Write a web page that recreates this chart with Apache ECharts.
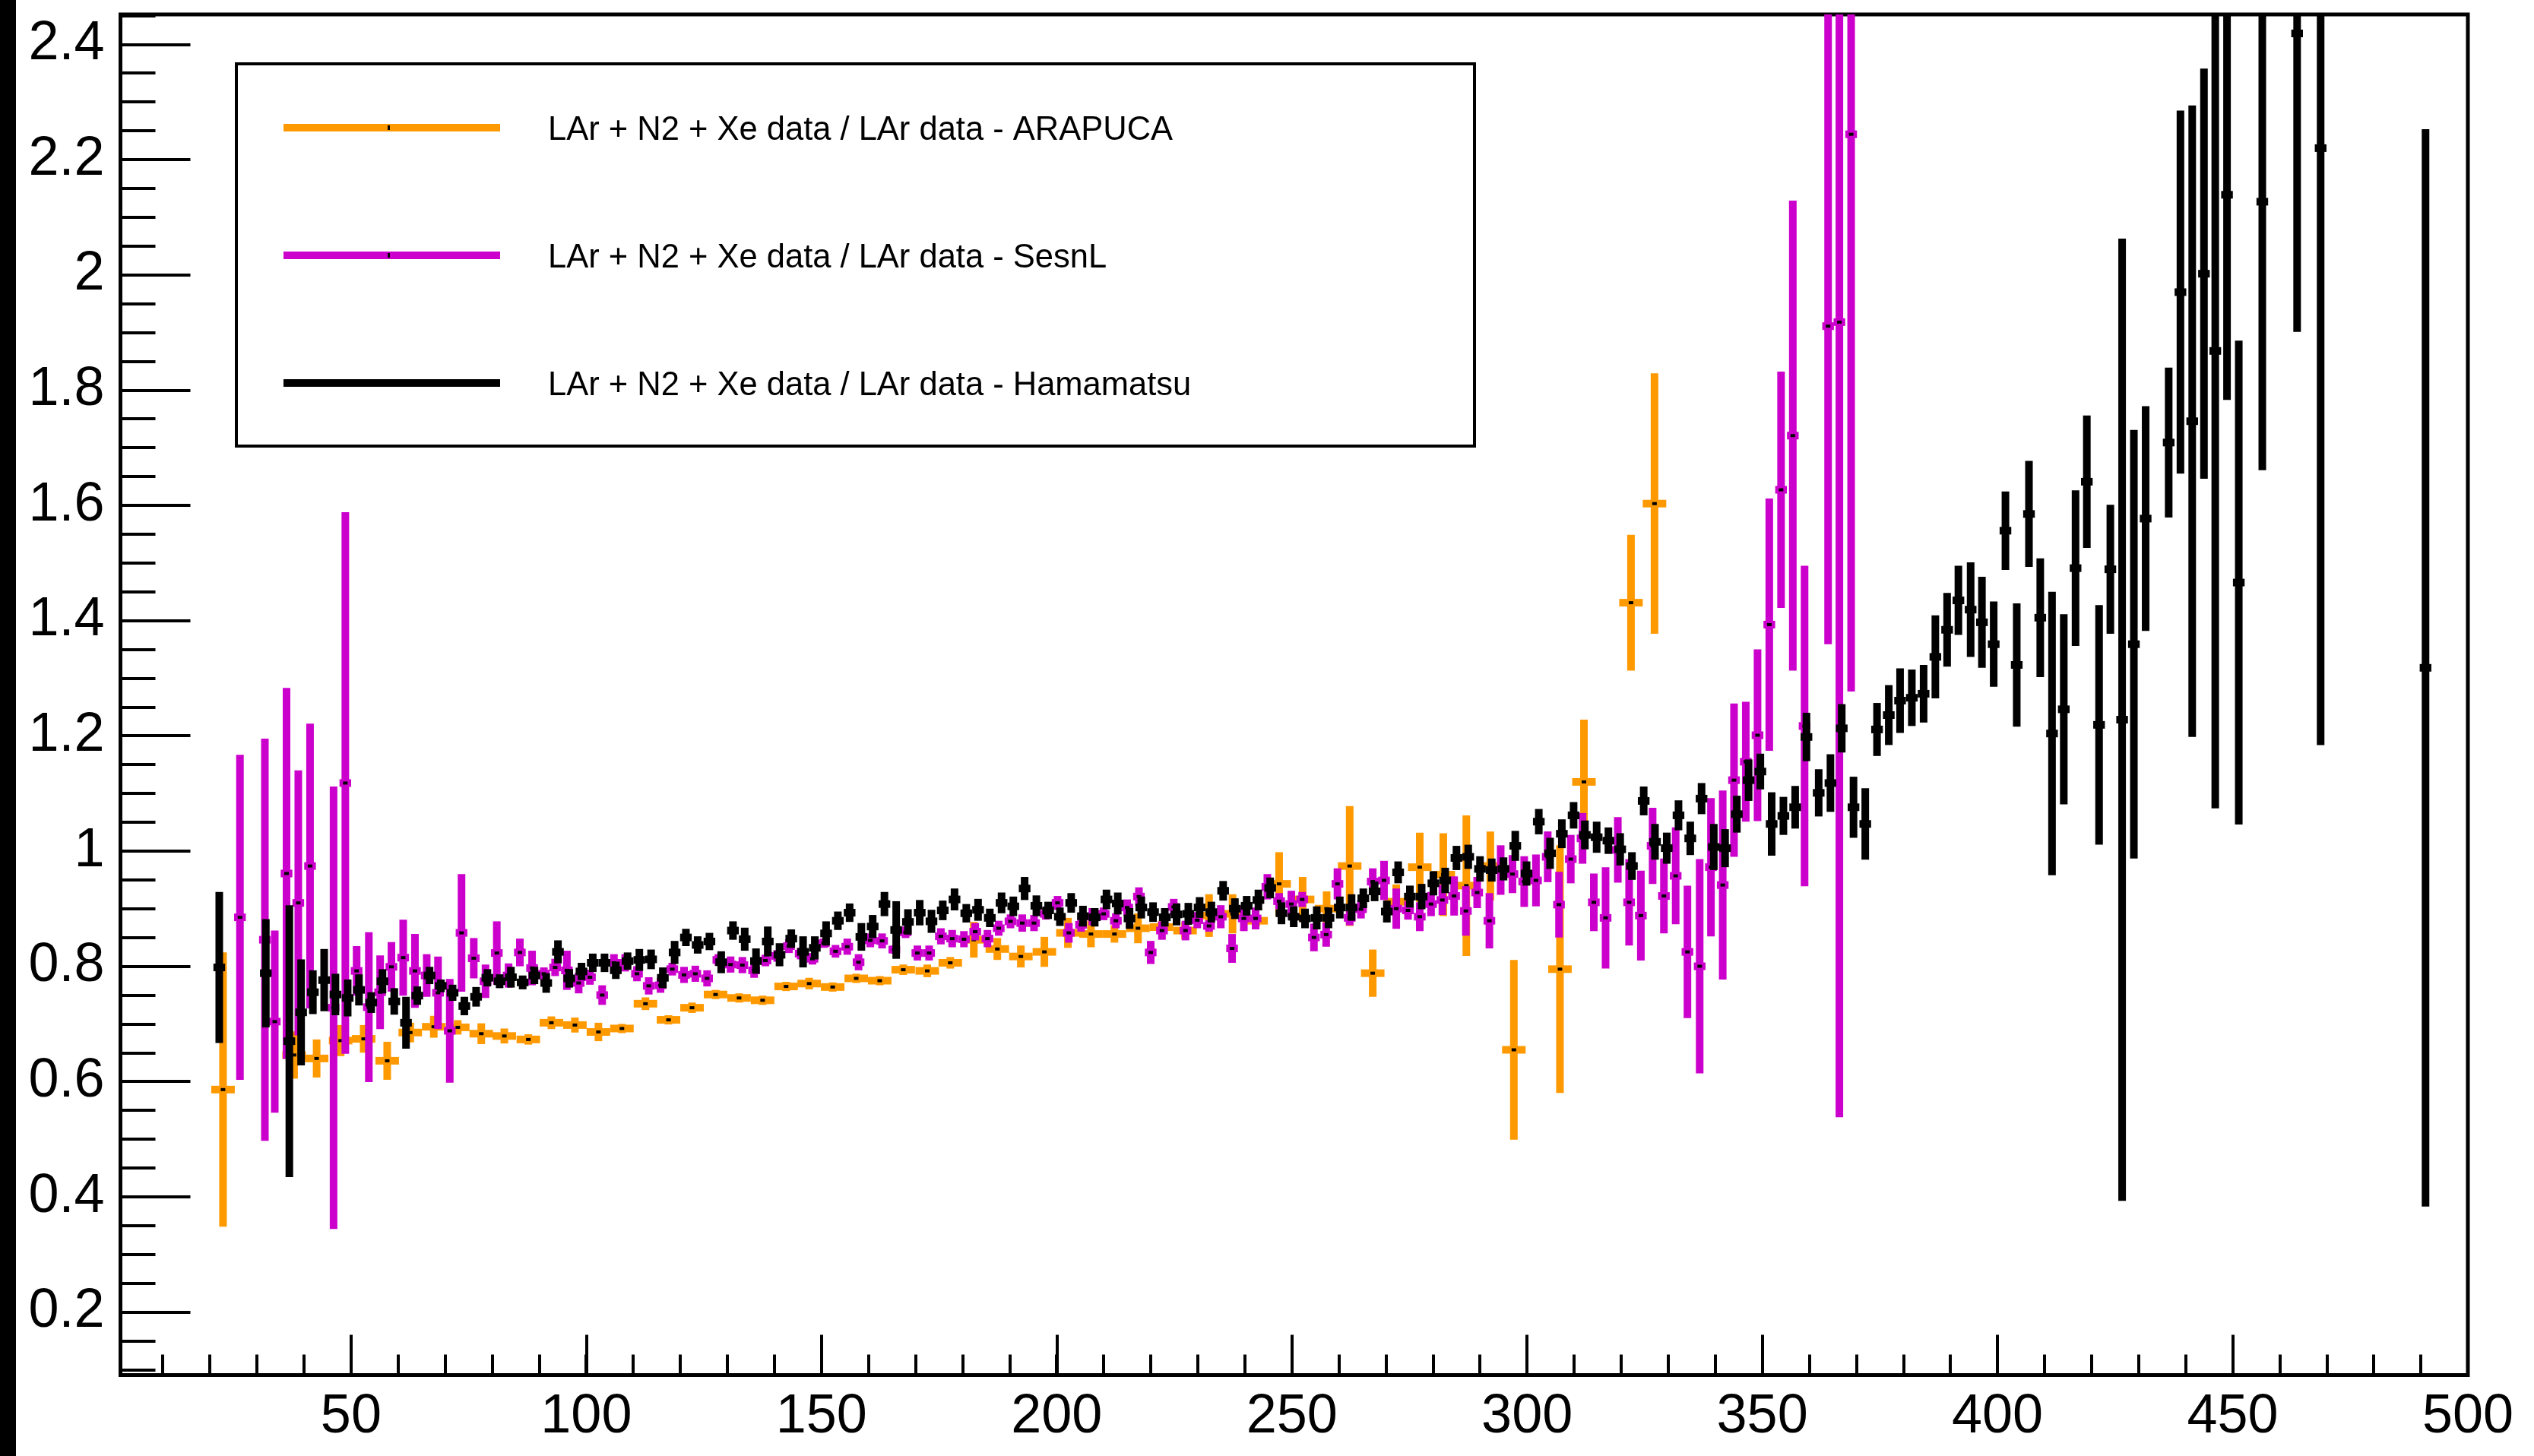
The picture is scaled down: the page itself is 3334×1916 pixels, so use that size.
<!DOCTYPE html>
<html>
<head>
<meta charset="utf-8">
<title>LAr + N2 + Xe / LAr ratio</title>
<script src="https://cdn.jsdelivr.net/npm/echarts@6/dist/echarts.min.js"></script>
<style>
  html, body { margin: 0; padding: 0; background: #fff; }
  #chart { width: 3334px; height: 1916px; }
</style>
</head>
<body>
<div id="chart"></div>
<script>
// ---- ARAPUCA ratio (5-unit bins) ----
const arapucaX = [22.8, 37.9, 42.7, 47.8, 52.7, 57.7, 62.6, 67.6, 72.7, 77.7, 82.6, 87.7, 92.6, 97.6,
  102.6, 107.6, 112.6, 117.5, 122.5, 127.5, 132.5, 137.5, 142.5, 147.4, 152.4, 157.4, 162.4, 167.4, 172.5, 177.4,
  182.4, 187.4, 192.4, 197.4, 202.4, 207.3, 212.3, 217.3, 222.3, 227.3, 232.4, 237.4, 242.4, 247.3, 252.3, 257.4,
  262.3, 267.2, 272.2, 277.2, 282.2, 287.1, 292.2, 297.2, 307.0, 312.1, 322.1, 327.1];
const arapucaY = [0.586, 0.646, 0.640, 0.671, 0.674, 0.636, 0.685, 0.695, 0.694, 0.683, 0.679, 0.673, 0.702, 0.698,
  0.686, 0.692, 0.735, 0.707, 0.728, 0.751, 0.745, 0.741, 0.765, 0.770, 0.764, 0.779, 0.775, 0.794, 0.792, 0.806,
  0.846, 0.830, 0.817, 0.825, 0.858, 0.856, 0.856, 0.866, 0.868, 0.862, 0.888, 0.891, 0.879, 0.943, 0.916, 0.900,
  0.974, 0.788, 0.912, 0.972, 0.959, 0.940, 0.974, 0.655, 0.795, 1.120, 1.431, 1.603];
const arapucaErr = [0.238, 0.041, 0.033, 0.027, 0.024, 0.033, 0.017, 0.019, 0.0125, 0.018, 0.013, 0.009, 0.011, 0.013,
  0.016, 0.008, 0.011, 0.008, 0.009, 0.008, 0.008, 0.008, 0.008, 0.010, 0.008, 0.008, 0.008, 0.009, 0.011, 0.010,
  0.031, 0.019, 0.019, 0.026, 0.026, 0.023, 0.015, 0.026, 0.010, 0.015, 0.037, 0.034, 0.010, 0.055, 0.039, 0.030,
  0.104, 0.041, 0.030, 0.060, 0.072, 0.122, 0.060, 0.156, 0.215, 0.108, 0.118, 0.226];

// ---- SesnL ratio (2.5-unit bins) ----
const sesnlX = [26.4, 31.7, 33.8, 36.3, 38.8, 41.3, 46.3, 48.8, 51.2, 53.8, 56.2, 58.6, 61.1, 63.6, 66.1, 68.5, 71.0,
  73.5, 76.1, 78.6, 81.0, 83.5, 85.9, 88.5, 91.0, 93.4, 95.9, 98.4,
  100.8, 103.4, 105.9, 108.3, 110.8, 113.3, 115.8, 118.3, 120.8, 123.2, 125.7, 128.1, 130.7, 133.2, 135.7, 138.1,
  140.6, 143.1, 145.6, 148.1, 150.5, 153.0, 155.5, 157.9, 160.4, 162.9, 165.5, 167.9, 170.4, 172.9, 175.4, 177.8, 180.3,
  182.7, 185.3, 187.7, 190.2, 192.7, 195.2, 197.7, 200.2, 202.6, 205.2, 207.6, 210.0, 212.6, 215.0, 217.5, 220.0,
  222.4, 224.9, 227.4, 229.9, 232.4, 234.9, 237.3, 239.8, 242.3, 244.8, 247.3, 249.9, 252.2, 254.7, 257.3, 259.7,
  262.3, 264.7, 267.2, 269.6, 272.2, 274.7, 277.2, 279.6, 282.0, 284.5, 287.0, 289.4, 292.0, 294.4, 296.9, 299.4,
  301.9, 304.4, 306.8, 309.3, 311.8, 314.2, 316.7, 319.3, 321.7, 324.2, 326.7, 329.1, 331.6, 334.1, 336.7, 339.1, 341.6,
  344.0, 346.5, 349.0, 351.5, 354.0, 356.5, 359.0, 364.0, 366.4, 368.9];
const sesnlY = [0.885, 0.846, 0.704, 0.961, 0.910, 0.974, 0.728, 1.118, 0.792, 0.729, 0.755, 0.799, 0.815, 0.792, 0.784, 0.754, 0.688,
  0.858, 0.814, 0.774, 0.823, 0.784, 0.824, 0.797, 0.787, 0.798, 0.793, 0.771,
  0.781, 0.750, 0.806, 0.806, 0.787, 0.766, 0.767, 0.795, 0.785, 0.787, 0.779, 0.811, 0.803, 0.802, 0.793, 0.810,
  0.818, 0.835, 0.822, 0.813, 0.840, 0.826, 0.834, 0.807, 0.845, 0.844, 0.829, 0.859, 0.823, 0.823, 0.852, 0.848, 0.847,
  0.860, 0.848, 0.866, 0.878, 0.875, 0.875, 0.891, 0.910, 0.858, 0.872, 0.886, 0.891, 0.879, 0.902, 0.921, 0.824,
  0.862, 0.903, 0.862, 0.880, 0.870, 0.886, 0.831, 0.883, 0.883, 0.938, 0.913, 0.908, 0.916, 0.850, 0.855, 0.943,
  0.884, 0.899, 0.947, 0.949, 0.900, 0.897, 0.886, 0.908, 0.915, 0.922, 0.896, 0.928, 0.879, 0.967, 0.960, 0.947,
  0.949, 0.990, 0.907, 0.986, 1.022, 0.911, 0.884, 1.002, 0.911, 0.888, 1.009, 0.922, 0.957, 0.825, 0.800, 0.972, 0.941,
  1.123, 1.155, 1.201, 1.393, 1.627, 1.721, 1.217, 1.911, 1.918, 2.244];
const sesnlErr = [0.282, 0.349, 0.158, 0.322, 0.230, 0.247, 0.384, 0.470, 0.043, 0.130, 0.064, 0.043, 0.066, 0.064, 0.037, 0.063, 0.090,
  0.102, 0.035, 0.029, 0.055, 0.021, 0.024, 0.030, 0.011, 0.015, 0.034, 0.018,
  0.013, 0.017, 0.015, 0.015, 0.013, 0.015, 0.013, 0.011, 0.014, 0.014, 0.014, 0.010, 0.014, 0.014, 0.013, 0.010,
  0.010, 0.012, 0.010, 0.010, 0.008, 0.011, 0.014, 0.014, 0.012, 0.013, 0.007, 0.010, 0.013, 0.013, 0.014, 0.015, 0.014,
  0.015, 0.015, 0.013, 0.012, 0.015, 0.014, 0.010, 0.012, 0.017, 0.012, 0.015, 0.011, 0.013, 0.014, 0.016, 0.020,
  0.016, 0.014, 0.017, 0.014, 0.010, 0.020, 0.025, 0.022, 0.019, 0.022, 0.014, 0.023, 0.013, 0.024, 0.021, 0.027,
  0.013, 0.016, 0.023, 0.034, 0.035, 0.016, 0.025, 0.021, 0.026, 0.034, 0.043, 0.027, 0.048, 0.043, 0.033, 0.044,
  0.045, 0.044, 0.057, 0.042, 0.044, 0.050, 0.088, 0.057, 0.075, 0.078, 0.066, 0.065, 0.084, 0.115, 0.186, 0.120, 0.164,
  0.133, 0.104, 0.149, 0.219, 0.205, 0.408, 0.278, 0.552, 1.380, 0.967];

// ---- Hamamatsu ratio (2.5-unit bins) ----
const hamaX = [22.0, 31.9, 36.9, 39.4, 41.9, 44.3, 46.7, 49.3, 51.7, 54.3, 56.7, 59.2, 61.7, 64.1, 66.7, 69.1, 71.6,
  74.1, 76.6, 79.0, 81.6, 84.0, 86.5, 89.0, 91.5, 94.0, 96.4, 99.0,
  101.4, 103.9, 106.3, 108.8, 111.3, 113.8, 116.3, 118.8, 121.2, 123.7, 126.2, 128.7, 131.2, 133.7, 136.1, 138.6,
  141.1, 143.6, 146.1, 148.6, 151.0, 153.5, 156.0, 158.5, 160.9, 163.4, 165.9, 168.4, 170.9, 173.4, 175.8, 178.3, 180.8,
  183.3, 185.8, 188.3, 190.8, 193.2, 195.7, 198.2, 200.7, 203.1, 205.6, 208.1, 210.6, 213.0, 215.5, 218.0, 220.5,
  223.0, 225.5, 228.0, 230.4, 232.9, 235.4, 237.9, 240.4, 242.9, 245.4, 247.8, 250.4, 252.8, 255.3, 257.8,
  260.2, 262.7, 265.2, 267.6, 270.2, 272.6, 275.1, 277.6, 280.1, 282.6, 285.0, 287.5, 290.0, 292.5, 295.0, 297.5,
  299.9, 302.5, 304.9, 307.4, 309.9, 312.3, 314.8, 317.3, 319.8, 322.3, 324.8, 327.2, 329.7, 332.2, 334.7, 337.1, 339.7, 342.1,
  344.6, 347.1, 349.6, 352.0, 354.5, 357.0, 359.4, 362.0, 364.5, 366.9, 369.4, 371.9, 374.4, 376.9, 379.3, 381.8,
  384.3, 386.8, 389.3, 391.7, 394.3, 396.7, 399.2, 401.7, 404.1, 406.7, 409.1, 411.6, 414.1, 416.6, 419.0,
  421.6, 424.0, 426.5, 429.0, 431.5, 436.4, 438.9, 441.4, 443.9, 446.3, 448.8, 451.3, 456.3, 463.7, 468.7, 491.0];
const hamaY = [0.798, 0.788, 0.670, 0.720, 0.755, 0.776, 0.751, 0.745, 0.759, 0.737, 0.774, 0.739, 0.702, 0.749, 0.784, 0.766, 0.754,
  0.731, 0.747, 0.780, 0.774, 0.781, 0.772, 0.784, 0.771, 0.825, 0.779, 0.791,
  0.806, 0.806, 0.793, 0.809, 0.811, 0.812, 0.780, 0.824, 0.850, 0.837, 0.843, 0.807, 0.862, 0.847, 0.809, 0.843,
  0.820, 0.848, 0.825, 0.832, 0.857, 0.879, 0.893, 0.851, 0.869, 0.908, 0.863, 0.877, 0.893, 0.878, 0.897, 0.916, 0.892,
  0.898, 0.884, 0.910, 0.904, 0.935, 0.905, 0.897, 0.886, 0.910, 0.887, 0.885, 0.916, 0.909, 0.883, 0.902, 0.894,
  0.885, 0.890, 0.891, 0.902, 0.894, 0.931, 0.900, 0.905, 0.915, 0.936, 0.892, 0.886, 0.883, 0.884, 0.884,
  0.902, 0.902, 0.918, 0.930, 0.895, 0.963, 0.921, 0.921, 0.944, 0.949, 0.988, 0.990, 0.969, 0.967, 0.969, 1.009,
  0.961, 1.051, 0.996, 1.030, 1.062, 1.028, 1.024, 1.018, 1.003, 0.974, 1.087, 1.016, 1.005, 1.062, 1.022, 1.091, 1.007, 1.005,
  1.064, 1.123, 1.138, 1.047, 1.061, 1.076, 1.198, 1.101, 1.118, 1.213, 1.076, 1.047, 1.211, 1.236, 1.261, 1.266,
  1.273, 1.337, 1.384, 1.435, 1.419, 1.397, 1.359, 1.556, 1.323, 1.585, 1.405, 1.204, 1.246, 1.491, 1.641,
  1.219, 1.489, 1.228, 1.359, 1.577, 1.709, 1.970, 1.746, 2.002, 1.868, 2.139, 1.466, 2.127, 2.419, 2.220, 1.318];
const hamaErr = [0.131, 0.094, 0.236, 0.092, 0.038, 0.054, 0.036, 0.032, 0.027, 0.018, 0.021, 0.023, 0.045, 0.016, 0.015, 0.011, 0.014,
  0.016, 0.017, 0.015, 0.012, 0.018, 0.012, 0.015, 0.017, 0.020, 0.016, 0.015,
  0.016, 0.016, 0.015, 0.015, 0.019, 0.017, 0.018, 0.020, 0.015, 0.015, 0.015, 0.019, 0.016, 0.020, 0.022, 0.026,
  0.020, 0.016, 0.027, 0.020, 0.021, 0.016, 0.016, 0.024, 0.020, 0.021, 0.050, 0.022, 0.022, 0.020, 0.017, 0.019, 0.016,
  0.019, 0.016, 0.018, 0.017, 0.020, 0.018, 0.015, 0.016, 0.017, 0.018, 0.016, 0.017, 0.019, 0.018, 0.019, 0.017,
  0.016, 0.019, 0.019, 0.018, 0.018, 0.017, 0.018, 0.017, 0.018, 0.018, 0.019, 0.018, 0.017, 0.020, 0.018,
  0.019, 0.023, 0.017, 0.017, 0.019, 0.019, 0.019, 0.022, 0.021, 0.022, 0.021, 0.021, 0.022, 0.020, 0.020, 0.026,
  0.021, 0.022, 0.027, 0.025, 0.023, 0.025, 0.027, 0.023, 0.028, 0.024, 0.025, 0.031, 0.027, 0.026, 0.029, 0.027, 0.040, 0.033,
  0.032, 0.036, 0.031, 0.055, 0.033, 0.037, 0.042, 0.041, 0.050, 0.042, 0.053, 0.062, 0.046, 0.052, 0.056, 0.049,
  0.050, 0.072, 0.064, 0.060, 0.082, 0.079, 0.074, 0.068, 0.107, 0.092, 0.103, 0.246, 0.165, 0.135, 0.115,
  0.208, 0.112, 0.835, 0.372, 0.195, 0.130, 0.315, 0.548, 0.356, 0.794, 0.356, 0.420, 0.466, 0.518, 1.036, 0.935];

// half bin widths drawn as horizontal error bars
const arapucaHalfBin = 2.5;
const sensorHalfBin = 1.24;

const legendLabels = [
  'LAr + N2 + Xe data / LAr data - ARAPUCA',
  'LAr + N2 + Xe data / LAr data - SesnL',
  'LAr + N2 + Xe data / LAr data - Hamamatsu'
];
const seriesColors = ['#ff9900', '#cc00cc', '#000000'];

const FONT = 'Liberation Sans';

function toPoints(xs, ys, es) {
  return xs.map((x, i) => [x, ys[i], es[i]]);
}

function clipRect(r, cs) {
  const x1 = Math.max(r.x, cs.x), y1 = Math.max(r.y, cs.y);
  const x2 = Math.min(r.x + r.width, cs.x + cs.width);
  const y2 = Math.min(r.y + r.height, cs.y + cs.height);
  if (x2 <= x1 || y2 <= y1) return null;
  return { x: x1, y: y1, width: x2 - x1, height: y2 - y1 };
}

// error-bar cross: vertical stat error, horizontal bin width, small black marker
function errorCross(color, halfBin) {
  return function (params, api) {
    const x = api.value(0), y = api.value(1), e = api.value(2);
    const c = api.coord([x, y]);
    const yTop = api.coord([x, y + e])[1];
    const yBot = api.coord([x, y - e])[1];
    const xL = api.coord([x - halfBin, y])[0];
    const xR = api.coord([x + halfBin, y])[0];
    const cs = params.coordSys;
    const pieces = [
      [{ x: c[0] - 5, y: yTop, width: 10, height: yBot - yTop }, color],
      [{ x: xL, y: c[1] - 5, width: xR - xL, height: 10 }, color],
      [{ x: c[0] - 3, y: c[1] - 2, width: 6, height: 4 }, '#000']
    ];
    const children = [];
    pieces.forEach(([r, fill]) => {
      const s = clipRect(r, cs);
      if (s) children.push({ type: 'rect', shape: s, style: { fill: fill } });
    });
    return { type: 'group', children: children };
  };
}

const tickStyle = { color: '#000', width: 4 };
const labelStyle = { fontSize: 72, fontFamily: FONT, color: '#000' };

const legendRows = [168, 336, 504];
const legendGraphics = [
  { type: 'rect', z: 100, shape: { x: 311, y: 84, width: 1629, height: 503 },
    style: { fill: '#fff', stroke: '#000', lineWidth: 4 } }
];
legendLabels.forEach((label, i) => {
  const yc = legendRows[i];
  legendGraphics.push({ type: 'rect', z: 101, shape: { x: 373, y: yc - 5, width: 285, height: 10 },
    style: { fill: seriesColors[i] } });
  legendGraphics.push({ type: 'rect', z: 102, shape: { x: 510, y: yc - 3, width: 3, height: 6 },
    style: { fill: '#000' } });
  legendGraphics.push({ type: 'text', z: 101, x: 721, y: yc + 4,
    style: { text: label, fontSize: 43.5, fontFamily: FONT, fill: '#000', align: 'left', verticalAlign: 'middle' } });
});

const chart = echarts.init(document.getElementById('chart'));
chart.setOption({
  animation: false,
  backgroundColor: '#fff',
  grid: [
    { left: 158.5, right: 87, top: 19, bottom: 106.5, show: true, borderColor: '#000', borderWidth: 5, backgroundColor: 'transparent' },
    { left: 158.5, right: 87, top: 58.3, bottom: 189.5 },   // y major ticks 0.2 .. 2.4
    { left: 158.5, right: 87, top: 20.4, bottom: 113.7 },   // y minor ticks 0.10 .. 2.45
    { left: 461.9, right: 87, top: 19, bottom: 106.5 },     // x major ticks 50 .. 500
    { left: 214.2, right: 87, top: 19, bottom: 106.5 }      // x minor ticks 10 .. 500
  ],
  xAxis: [
    { gridIndex: 0, type: 'value', min: 1, max: 500, show: false },
    { gridIndex: 1, type: 'value', show: false },
    { gridIndex: 2, type: 'value', show: false },
    { gridIndex: 3, type: 'value', min: 50, max: 500, interval: 50,
      axisLine: { show: false },
      axisTick: { show: true, inside: true, length: 53, lineStyle: tickStyle },
      axisLabel: Object.assign({ show: true, margin: 20 }, labelStyle),
      splitLine: { show: false } },
    { gridIndex: 4, type: 'value', min: 10, max: 500, interval: 10,
      axisLine: { show: false },
      axisTick: { show: true, inside: true, length: 27, lineStyle: tickStyle },
      axisLabel: { show: false },
      splitLine: { show: false } }
  ],
  yAxis: [
    { gridIndex: 0, type: 'value', min: 0.0905, max: 2.452, show: false },
    { gridIndex: 1, type: 'value', min: 0.2, max: 2.4, interval: 0.2,
      axisLine: { show: false },
      axisTick: { show: true, inside: true, length: 92, lineStyle: tickStyle },
      axisLabel: Object.assign({ show: true, margin: 21, padding: [18, 0, 0, 0] }, labelStyle),
      splitLine: { show: false } },
    { gridIndex: 2, type: 'value', min: 0.1, max: 2.45, interval: 0.05,
      axisLine: { show: false },
      axisTick: { show: true, inside: true, length: 46, lineStyle: tickStyle },
      axisLabel: { show: false },
      splitLine: { show: false } },
    { gridIndex: 3, type: 'value', show: false },
    { gridIndex: 4, type: 'value', show: false }
  ],
  graphic: [
    { type: 'rect', z: 100, shape: { x: 0, y: 0, width: 21, height: 1916 }, style: { fill: '#000' } }
  ].concat(legendGraphics),
  series: [
    { name: legendLabels[0], type: 'custom', xAxisIndex: 0, yAxisIndex: 0,
      renderItem: errorCross(seriesColors[0], arapucaHalfBin),
      encode: { x: 0, y: 1 }, data: toPoints(arapucaX, arapucaY, arapucaErr) },
    { name: legendLabels[1], type: 'custom', xAxisIndex: 0, yAxisIndex: 0,
      renderItem: errorCross(seriesColors[1], sensorHalfBin),
      encode: { x: 0, y: 1 }, data: toPoints(sesnlX, sesnlY, sesnlErr) },
    { name: legendLabels[2], type: 'custom', xAxisIndex: 0, yAxisIndex: 0,
      renderItem: errorCross(seriesColors[2], sensorHalfBin),
      encode: { x: 0, y: 1 }, data: toPoints(hamaX, hamaY, hamaErr) }
  ]
});
</script>
</body>
</html>
